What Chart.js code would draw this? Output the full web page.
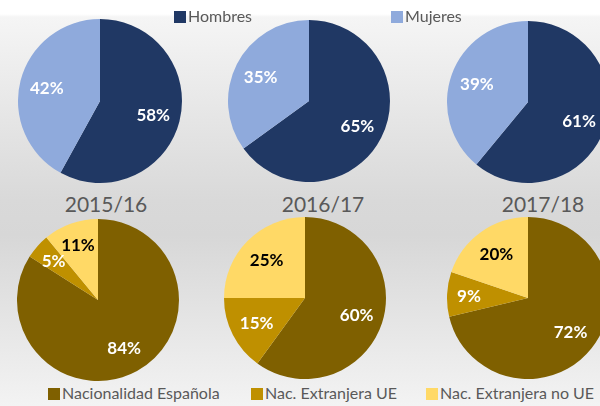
<!DOCTYPE html>
<html>
<head>
<meta charset="utf-8">
<script src="https://cdn.jsdelivr.net/npm/chart.js@4.4.1/dist/chart.umd.min.js"></script>
<style>
  html, body { margin: 0; padding: 0; }
  body {
    width: 600px; height: 406px; overflow: hidden; position: relative;
    font-family: Lato, "Noto Sans", sans-serif;
    background: linear-gradient(to bottom, #ffffff 0px, #ffffff 14px, #f5f5f5 17px, #d9d9d9 200px, #d7d7d7 235px, #f3f3f3 406px);
  }
  canvas { position: absolute; }
  .year { position: absolute; font-size: 21px; color: #595959; transform: translateX(-50%); white-space: nowrap; }
  .leg { position: absolute; font-size: 16px; color: #595959; white-space: nowrap; line-height: 18px; }
  .leg i { display: inline-block; width: 12px; height: 12px; margin-right: 2px; vertical-align: -1px; }
</style>
</head>
<body>
<script>
// years / categories
const years = ['2015/16', '2016/17', '2017/18'];
const genderLabels = ['Hombres', 'Mujeres'];
const natLabels = ['Nacionalidad Española', 'Nac. Extranjera UE', 'Nac. Extranjera no UE'];

// percentages per year
const hombres = [58, 65, 61];
const mujeres = [42, 35, 39];
const espanola = [84, 60, 72];
const extUE = [5, 15, 9];
const extNoUE = [11, 25, 20];

const genderColors = ['#203864', '#8FAADC'];
const natColors = ['#7F6000', '#BF9000', '#FFD966'];
const natText = ['#ffffff', '#ffffff', '#000000'];

// pie positions on the page (centre x, centre y, radius)
const topPies = [[100, 101, 82], [309, 101, 81], [528, 102, 81]];
const botPies = [[98, 300, 81], [305, 298, 81], [528, 298, 81]];

//draw the percentage inside each slice
const pctLabels = {
    id: 'pctLabels',
    afterDatasetsDraw(chart, args, opts) {
        const c = chart.ctx;
        const meta = chart.getDatasetMeta(0);
        const vals = chart.data.datasets[0].data;
        c.save();
        c.font = 'bold 17px Lato, "Noto Sans", sans-serif';
        c.textAlign = 'center';
        c.textBaseline = 'middle';
        meta.data.forEach((arc, i) => {
            const a = (arc.startAngle + arc.endAngle) / 2;
            const k = vals[i] < 12 ? 0.73 : 0.67;
            const d = arc.outerRadius * k;
            c.fillStyle = opts.colors[i];
            c.fillText(vals[i] + '%', arc.x + Math.cos(a) * d, arc.y + Math.sin(a) * d + 1);
        });
        c.restore();
    }
};

function makePie(pos, labels, values, colors, textColors) {
    const [cx, cy, r] = pos;
    const cv = document.createElement('canvas');
    cv.width = 2 * r;
    cv.height = 2 * r;
    cv.style.left = (cx - r) + 'px';
    cv.style.top = (cy - r) + 'px';
    document.body.appendChild(cv);
    new Chart(cv.getContext('2d'), {
        type: 'pie',
        data: {
            labels: labels,
            datasets: [{ data: values, backgroundColor: colors, borderWidth: 0, hoverOffset: 0 }]
        },
        options: {
            responsive: false,
            animation: false,
            devicePixelRatio: 1,
            layout: { padding: 0 },
            plugins: {
                legend: { display: false },
                tooltip: { enabled: false },
                pctLabels: { colors: textColors }
            }
        },
        plugins: [pctLabels]
    });
}

years.forEach((y, i) => {
    makePie(topPies[i], genderLabels, [hombres[i], mujeres[i]], genderColors, ['#ffffff', '#ffffff']);
    makePie(botPies[i], natLabels, [espanola[i], extUE[i], extNoUE[i]], natColors, natText);
});

// year titles between the two rows
const yearX = [106, 323, 543];
years.forEach((y, i) => {
    const d = document.createElement('div');
    d.className = 'year';
    d.textContent = y;
    d.style.left = yearX[i] + 'px';
    d.style.top = '191px';
    document.body.appendChild(d);
});

// legends
function legend(labels, colors, xs, top) {
    labels.forEach((l, i) => {
        const d = document.createElement('div');
        d.className = 'leg';
        d.style.left = xs[i] + 'px';
        d.style.top = top + 'px';
        const sq = document.createElement('i');
        sq.style.background = colors[i];
        d.appendChild(sq);
        d.appendChild(document.createTextNode(l));
        document.body.appendChild(d);
    });
}
legend(genderLabels, genderColors, [174, 391], 7);
legend(natLabels, natColors, [48, 251, 426], 384);
</script>
</body>
</html>
